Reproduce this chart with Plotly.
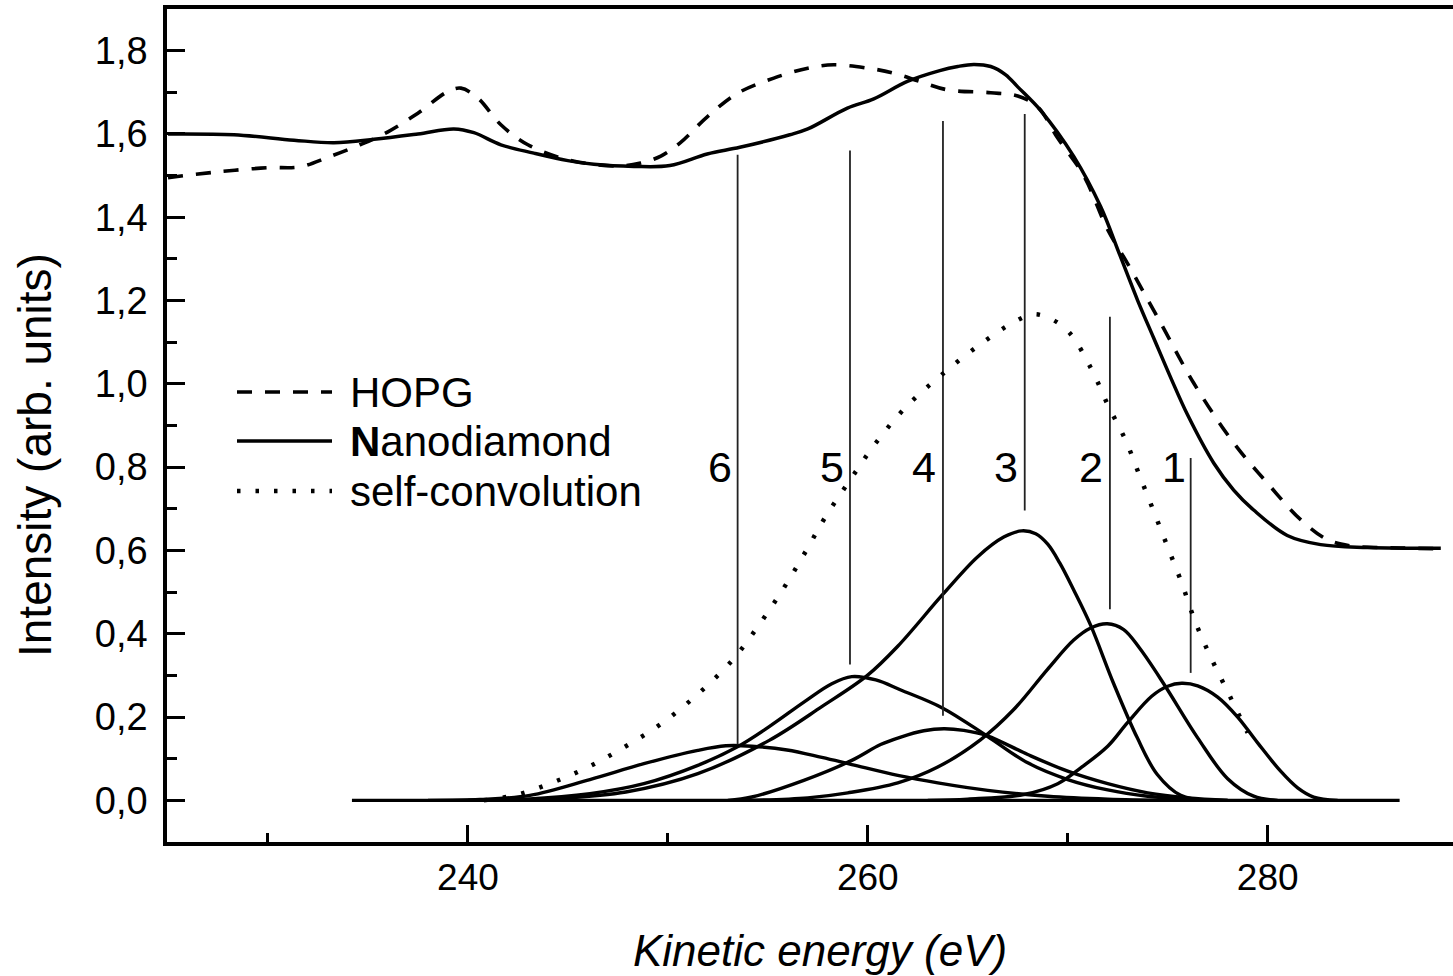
import plotly.graph_objects as go

FONT = "Liberation Sans, Arial, sans-serif"

# ---------------- data ----------------
nd_x = [225, 228.3, 231.3, 233.3, 235.3, 237.5, 239.3, 240.3, 241.65, 243.3, 245.0, 246.3,
        248.3, 250.1, 251.97, 253.6, 256.1, 257.0, 258.98, 260.3, 261.98, 263.6, 264.5, 265.3,
        266.15, 266.9, 267.5, 268.65, 270.3, 271.65, 272.6, 273.5, 274.3, 275.15, 276.0, 277.3,
        278.3, 279.3, 280.98, 282.65, 285.0, 288.66]
nd_y = [1.600, 1.598, 1.585, 1.579, 1.587, 1.600, 1.612, 1.603, 1.574, 1.554, 1.536, 1.527,
        1.522, 1.524, 1.552, 1.568, 1.598, 1.612, 1.662, 1.684, 1.726, 1.752, 1.762, 1.767,
        1.762, 1.742, 1.713, 1.656, 1.546, 1.425, 1.31, 1.20, 1.11, 1.015, 0.925, 0.81,
        0.745, 0.697, 0.636, 0.614, 0.607, 0.605]

hopg_x = [225, 227.5, 230, 231.6, 233.0, 234.6, 236.0, 237.5, 239.0, 239.65, 240.5, 241.65,
          243.0, 245.0, 247.5, 248.64, 249.65, 250.6, 251.97, 253.5, 255.3, 257.0, 258.3,
          260.0, 261.3, 262.6, 263.98, 266.15, 267.5, 268.5, 269.5, 270.8, 272.0, 272.98,
          274.65, 276.3, 278.3, 279.98, 281.65, 282.99, 284.15, 286.65, 288.66]
hopg_y = [1.495, 1.509, 1.519, 1.521, 1.544, 1.574, 1.605, 1.650, 1.702, 1.710, 1.686, 1.622,
          1.574, 1.538, 1.523, 1.530, 1.547, 1.578, 1.641, 1.698, 1.734, 1.758, 1.766,
          1.758, 1.746, 1.726, 1.706, 1.699, 1.691, 1.665, 1.59, 1.50, 1.37, 1.29,
          1.146, 1.002, 0.858, 0.762, 0.674, 0.626, 0.611, 0.606, 0.604]

sc_x = [240.8, 242.5, 244.3, 246.1, 247.9, 249.7, 251.5, 253.2, 254.6, 255.8, 256.9, 257.9,
        259.1, 260.4, 261.9, 263.7, 265.6, 267.3, 268.3, 269.2, 270.1, 271.2, 272.0, 272.9,
        273.6, 274.3, 275.0, 275.7, 276.4, 277.2, 278.1, 279.0]
sc_y = [0.0, 0.014, 0.044, 0.082, 0.13, 0.185, 0.255, 0.335, 0.424, 0.51, 0.598, 0.682,
        0.768, 0.858, 0.944, 1.022, 1.094, 1.148, 1.167, 1.155, 1.122, 1.034, 0.95, 0.864,
        0.779, 0.694, 0.608, 0.522, 0.426, 0.339, 0.251, 0.162]

p1_x = [263, 265, 267.8, 269.5, 270.65, 272, 272.98, 274.2, 275.0, 275.7, 276.5, 277.5,
        278.5, 279.5, 280.65, 281.5, 282.3, 283.5]
p1_y = [0, 0.003, 0.014, 0.04, 0.078, 0.13, 0.186, 0.25, 0.274, 0.281, 0.275, 0.248,
        0.2, 0.138, 0.07, 0.03, 0.008, 0]

p2_x = [254, 257, 259, 261.5, 263.5, 265.65, 267.3, 268.98, 270.3, 271.15, 271.98, 272.8,
        273.6, 274.8, 276.5, 278.0, 279.3, 280.5]
p2_y = [0, 0.006, 0.018, 0.042, 0.08, 0.146, 0.218, 0.314, 0.385, 0.414, 0.424, 0.41,
        0.365, 0.28, 0.15, 0.052, 0.01, 0]

p3_x = [242, 244.3, 247.9, 251.5, 255.07, 257.7, 259.98, 261.5, 263.76, 265.5, 266.8, 267.7,
        268.4, 269.0, 269.6, 270.3, 271.15, 272.3, 273.48, 274.48, 275.65, 277]
p3_y = [0, 0.004, 0.02, 0.064, 0.144, 0.225, 0.30, 0.37, 0.495, 0.585, 0.632, 0.647,
        0.64, 0.615, 0.57, 0.505, 0.42, 0.28, 0.15, 0.062, 0.012, 0]

p4_x = [253, 254.2, 256.8, 259.2, 260.64, 261.65, 262.8, 263.8, 264.8, 265.98, 268.0, 270.0,
        272.0, 274.0, 276.0, 278.0]
p4_y = [0, 0.008, 0.048, 0.096, 0.134, 0.152, 0.167, 0.172, 0.168, 0.155, 0.11, 0.07,
        0.04, 0.018, 0.006, 0]

p5_x = [240, 242.9, 246.1, 248.8, 251.5, 253.46, 255.07, 256.84, 258.2, 259.2, 260.4, 261.65,
        263.73, 265.98, 268.0, 270.0, 272.0, 274.0, 276.0, 278.0]
p5_y = [0, 0.003, 0.016, 0.04, 0.084, 0.128, 0.177, 0.237, 0.28, 0.297, 0.289, 0.265,
        0.222, 0.154, 0.09, 0.05, 0.025, 0.01, 0.003, 0]

p6_x = [238, 240.6, 243.1, 246.1, 248.8, 251.5, 252.9, 254.2, 255.96, 257.7, 259.2, 261.5,
        263.5, 266, 269, 272, 275]
p6_y = [0, 0.002, 0.012, 0.05, 0.088, 0.12, 0.131, 0.13, 0.121, 0.103, 0.086, 0.06,
        0.042, 0.024, 0.01, 0.003, 0]

baseline_x = [234.2, 286.6]
baseline_y = [0, 0]

marker_x = [276.15, 272.11, 267.85, 263.76, 259.11, 253.49]
marker_top = [0.822, 1.161, 1.648, 1.631, 1.560, 1.55]
marker_bottom = [0.306, 0.459, 0.696, 0.203, 0.326, 0.134]

label_x = [275.3, 271.15, 266.9, 262.8, 258.2, 252.6]
label_text = ["1", "2", "3", "4", "5", "6"]
label_y = 0.80

legend_names = ["HOPG", "<b>N</b>anodiamond", "self-convolution"]

# ---------------- figure ----------------
fig = go.Figure()

comp_line = dict(color="black", width=3.4, shape="spline", smoothing=1.0)
for cx, cy in [(p1_x, p1_y), (p2_x, p2_y), (p3_x, p3_y), (p4_x, p4_y), (p5_x, p5_y), (p6_x, p6_y)]:
    fig.add_trace(go.Scatter(x=cx, y=cy, mode="lines", line=comp_line, hoverinfo="skip"))

fig.add_trace(go.Scatter(x=baseline_x, y=baseline_y, mode="lines",
                         line=dict(color="black", width=3.4)))

for mx, mt, mb in zip(marker_x, marker_top, marker_bottom):
    fig.add_trace(go.Scatter(x=[mx, mx], y=[mb, mt], mode="lines",
                             line=dict(color="#222222", width=1.8)))

fig.add_trace(go.Scatter(x=sc_x, y=sc_y, mode="lines", name="self-convolution",
                         line=dict(color="black", width=4.5, dash="3.5px,15.5px",
                                   shape="spline", smoothing=1.0)))
fig.add_trace(go.Scatter(x=hopg_x, y=hopg_y, mode="lines", name="HOPG",
                         line=dict(color="black", width=3.6, dash="15px,13px",
                                   shape="spline", smoothing=1.0)))
fig.add_trace(go.Scatter(x=nd_x, y=nd_y, mode="lines", name="Nanodiamond",
                         line=dict(color="black", width=3.5, shape="spline", smoothing=1.0)))

# peak number labels
for lx, lt in zip(label_x, label_text):
    fig.add_annotation(x=lx, y=label_y, text=lt, showarrow=False, xanchor="center",
                       yanchor="middle", font=dict(family=FONT, size=43, color="black"))

# custom legend (paper coordinates)
W, H, L, B = 1453, 976, 167, 134
PW, PH = W - L, H - 9 - B


def px2paper(px, py):
    return (px - L) / PW, (H - B - py) / PH


legend_rows = [(392, "15px,13px", 3.6), (441, None, 3.5), (491, "3.5px,15px", 4.5)]
for (py, dash, wd), name in zip(legend_rows, legend_names):
    x0, y0 = px2paper(237, py)
    x1, _ = px2paper(332, py)
    line = dict(color="black", width=wd)
    if dash:
        line["dash"] = dash
    fig.add_shape(type="line", xref="paper", yref="paper", x0=x0, x1=x1, y0=y0, y1=y0, line=line)
    tx, ty = px2paper(348, py)
    fig.add_annotation(xref="paper", yref="paper", x=tx, y=ty, text=name, showarrow=False,
                       xanchor="left", yanchor="middle",
                       font=dict(family=FONT, size=42, color="black"))

# axis titles
tx, ty = px2paper(820, 950)
fig.add_annotation(xref="paper", yref="paper", x=tx, y=ty, text="<i>Kinetic energy (eV)</i>",
                   showarrow=False, xanchor="center", yanchor="middle",
                   font=dict(family=FONT, size=44, color="black"))
tx, ty = px2paper(35, 455)
fig.add_annotation(xref="paper", yref="paper", x=tx, y=ty, text="Intensity (arb. units)",
                   showarrow=False, xanchor="center", yanchor="middle", textangle=-90,
                   font=dict(family=FONT, size=46, color="black"))

fig.update_layout(width=W, height=H, margin=dict(l=L, r=0, t=9, b=B),
                  paper_bgcolor="white", plot_bgcolor="white", showlegend=False,
                  separators=",.", font=dict(family=FONT, color="black"))

fig.update_xaxes(range=[224.95, 289.27], showgrid=False, zeroline=False,
                 showline=True, linewidth=3.5, linecolor="black", mirror=True,
                 ticks="inside", ticklen=17, tickwidth=2.5, tickcolor="black",
                 tick0=0, dtick=20, tickformat="d", ticklabelstandoff=0,
                 tickfont=dict(family=FONT, size=37, color="black"),
                 minor=dict(ticks="inside", ticklen=9, tickwidth=2.5, tickcolor="black", dtick=10, tick0=0))
fig.update_yaxes(range=[-0.1, 1.9], showgrid=False, zeroline=False,
                 showline=True, linewidth=3.5, linecolor="black", mirror=False,
                 ticks="inside", ticklen=18, tickwidth=3, tickcolor="black",
                 tick0=0, dtick=0.2, tickformat=".1f", ticklabelstandoff=8,
                 tickfont=dict(family=FONT, size=38, color="black"),
                 minor=dict(ticks="inside", ticklen=10, tickwidth=3, tickcolor="black", dtick=0.1, tick0=0))

fig.write_html("out.html")
